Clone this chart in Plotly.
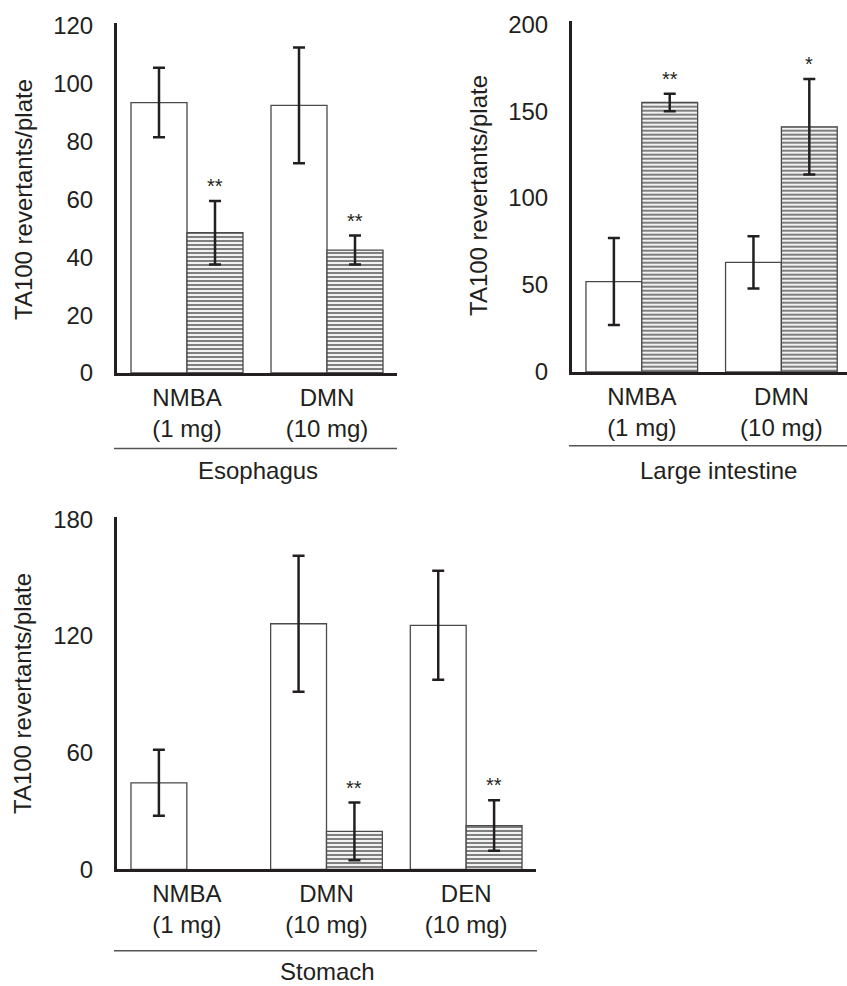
import plotly.graph_objects as go

W, H = 847, 986

# ---------------- data ----------------
# Esophagus
eso_drugs = ["NMBA", "DMN"]
eso_doses = ["(1 mg)", "(10 mg)"]
eso_open = [93.5, 92.5]
eso_open_err = [12, 20]
eso_hatch = [48.5, 42.5]
eso_hatch_err = [11, 5]
eso_marks = ["**", "**"]
eso_ticks = [0, 20, 40, 60, 80, 100, 120]

# Large intestine
li_drugs = ["NMBA", "DMN"]
li_doses = ["(1 mg)", "(10 mg)"]
li_open = [52, 63]
li_open_err = [25, 15]
li_hatch = [155, 141]
li_hatch_err = [5, 27.5]
li_marks = ["**", "*"]
li_ticks = [0, 50, 100, 150, 200]

# Stomach
st_drugs = ["NMBA", "DMN", "DEN"]
st_doses = ["(1 mg)", "(10 mg)", "(10 mg)"]
st_open = [44.5, 126.3, 125.5]
st_open_err = [17, 35, 28]
st_hatch = [None, 19.5, 22.5]
st_hatch_err = [None, 14.8, 13]
st_marks = ["", "**", "**"]
st_ticks = [0, 60, 120, 180]

y_title = "TA100 revertants/plate"
groups = ["Esophagus", "Large intestine", "Stomach"]

# ---------------- style ----------------
FONT = "Liberation Sans, Arial, Helvetica, sans-serif"
INK = "#231f20"
FS = 24
BARGAP = 0.2


def px_x(p):
    return p / W


def px_y(p):
    return 1 - p / H


fig = go.Figure()


def add_panel(idx, drugs, doses, open_v, open_e, hatch_v, hatch_e, marks):
    xa = "x" if idx == 1 else f"x{idx}"
    ya = "y" if idx == 1 else f"y{idx}"
    cats = [f"{d}<br>{s}" for d, s in zip(drugs, doses)]
    err_style = dict(type="data", visible=True, color=INK, thickness=2.5, width=6)
    fig.add_trace(go.Bar(
        x=cats, y=open_v, xaxis=xa, yaxis=ya, showlegend=False,
        marker=dict(color="white", line=dict(color="#4a4a4a", width=1.3)),
        error_y=dict(array=open_e, **err_style),
    ))
    fig.add_trace(go.Bar(
        x=cats, y=hatch_v, xaxis=xa, yaxis=ya, showlegend=False,
        marker=dict(color="white", line=dict(color="#4a4a4a", width=1.3),
                    pattern=dict(shape="-", fgcolor="black", bgcolor="white",
                                 size=4, solidity=0.55)),
        error_y=dict(array=hatch_e, **err_style),
    ))
    off = (1 - BARGAP) / 4
    for i, (v, e, m) in enumerate(zip(hatch_v, hatch_e, marks)):
        if m and v is not None:
            fig.add_annotation(x=i + off, y=v + e, xref=xa, yref=ya, text=m,
                               showarrow=False, yanchor="middle", yshift=15,
                               font=dict(size=20, color=INK, family=FONT))


add_panel(1, eso_drugs, eso_doses, eso_open, eso_open_err, eso_hatch, eso_hatch_err, eso_marks)
add_panel(2, li_drugs, li_doses, li_open, li_open_err, li_hatch, li_hatch_err, li_marks)
add_panel(3, st_drugs, st_doses, st_open, st_open_err, st_hatch, st_hatch_err, st_marks)


def xaxis(x0, x1, rng, anchor):
    return dict(domain=[px_x(x0), min(1, px_x(x1))], range=rng, anchor=anchor,
                showline=True, linewidth=3, linecolor=INK, ticks="",
                showgrid=False, zeroline=False, fixedrange=True, automargin=False,
                tickfont=dict(size=FS, color=INK, family=FONT),
                ticklabelstandoff=1)


def yaxis(top, bottom, rng, tickvals, anchor):
    return dict(domain=[px_y(bottom), px_y(top)], range=rng, anchor=anchor,
                tickvals=tickvals, showline=True, linewidth=3, linecolor=INK,
                ticks="", showgrid=False, zeroline=False, fixedrange=True,
                automargin=False,
                tickfont=dict(size=FS, color=INK, family=FONT),
                ticklabelstandoff=16)


fig.update_layout(
    width=W, height=H, margin=dict(l=0, r=0, t=0, b=0, autoexpand=False),
    paper_bgcolor="white", plot_bgcolor="white",
    barmode="group", bargap=BARGAP, bargroupgap=0,
    font=dict(family=FONT, color=INK, size=FS),
    xaxis=xaxis(117, 397, [-0.5, 1.5], "y"),
    yaxis=yaxis(23, 373, [0, 121], eso_ticks, "x"),
    xaxis2=xaxis(572, 847, [-0.5, 1.47], "y2"),
    yaxis2=yaxis(20.7, 372, [0, 202], li_ticks, "x2"),
    xaxis3=xaxis(117, 536, [-0.5, 2.5], "y3"),
    yaxis3=yaxis(517, 869.3, [0, 181.2], st_ticks, "x3"),
)

# y-axis titles
for cx, cy in [(23, 200), (478, 196), (22, 694)]:
    fig.add_annotation(x=px_x(cx), y=px_y(cy), xref="paper", yref="paper",
                       text=y_title, textangle=-90, showarrow=False,
                       xanchor="center", yanchor="middle",
                       font=dict(size=FS, color=INK, family=FONT))

# group lines and labels
for (x0, x1, ly), (gx, gy), name in zip(
        [(114, 397, 448.5), (569, 847, 445.7), (114, 537, 950.7)],
        [(258, 470), (718, 470), (327, 971.5)], groups):
    fig.add_shape(type="line", xref="paper", yref="paper",
                  x0=px_x(x0), x1=px_x(x1), y0=px_y(ly), y1=px_y(ly),
                  line=dict(color="#555555", width=1.5))
    fig.add_annotation(x=px_x(gx), y=px_y(gy), xref="paper", yref="paper",
                       text=name, showarrow=False, xanchor="center",
                       yanchor="middle", borderpad=0,
                       font=dict(size=FS, color=INK, family=FONT))

fig.write_html("out.html",
               config={"displayModeBar": False},
               post_script="document.body.style.margin='0';"
                           "document.body.style.overflow='hidden';")
